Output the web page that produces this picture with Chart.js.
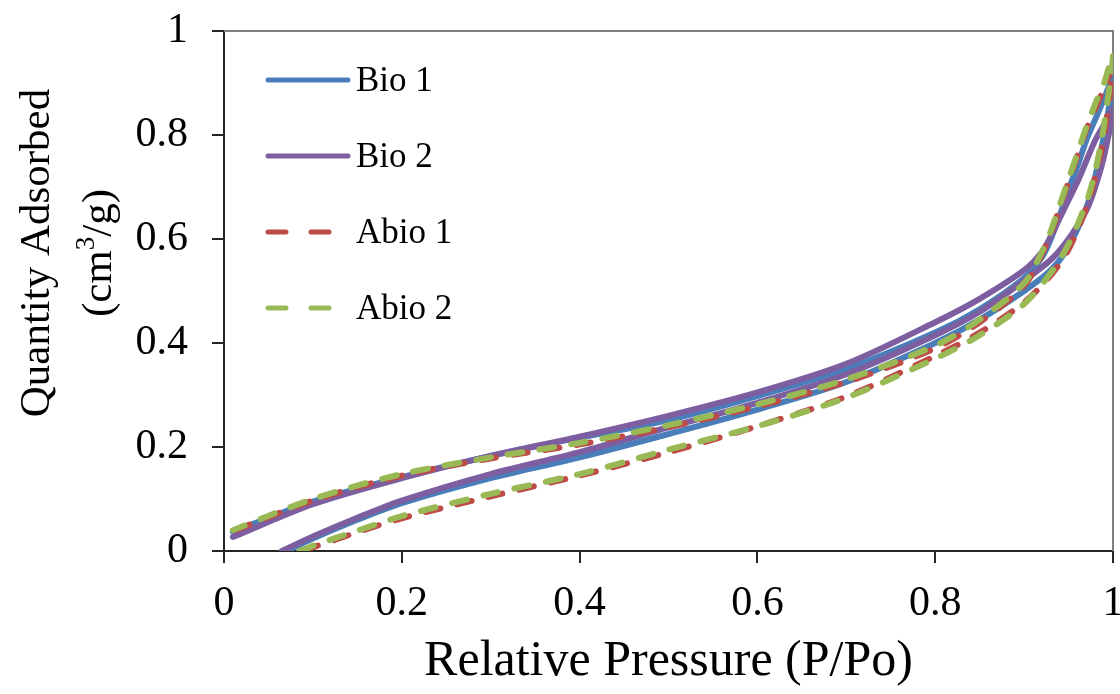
<!DOCTYPE html>
<html>
<head>
<meta charset="utf-8">
<script src="https://cdn.jsdelivr.net/npm/chart.js@4.4.1/dist/chart.umd.min.js"></script>
<style>
  html, body { margin: 0; padding: 0; background: #fff; }
  #wrap { width: 1120px; height: 694px; position: relative; }
</style>
</head>
<body>
<div id="wrap"><canvas id="chart"></canvas></div>
<script>
// isotherm loops: adsorption branch up to P/Po = 1, then desorption branch back down
const seriesNames = ['Bio 1', 'Bio 2', 'Abio 1', 'Abio 2']
const seriesColors = ['#4a7ebb', '#7d5fa1', '#be4b48', '#98b954']

const bio1Pressure = [0.07, 0.1, 0.15, 0.2, 0.3, 0.4, 0.5, 0.6, 0.7, 0.8, 0.85, 0.9, 0.93, 0.95, 0.97, 0.98, 0.99, 1.0,
  0.99, 0.98, 0.97, 0.96, 0.95, 0.94, 0.93, 0.92, 0.9, 0.85, 0.8, 0.7, 0.6, 0.5, 0.4, 0.3, 0.2, 0.1, 0.01]
const bio1Quantity = [0, 0.024, 0.06, 0.092, 0.14, 0.18, 0.225, 0.272, 0.325, 0.4, 0.445, 0.5, 0.54, 0.585, 0.66, 0.72, 0.8, 0.91,
  0.87, 0.83, 0.79, 0.74, 0.695, 0.645, 0.6, 0.565, 0.525, 0.465, 0.42, 0.35, 0.298, 0.252, 0.218, 0.183, 0.142, 0.095, 0.037]

const bio2Pressure = [0.065, 0.1, 0.15, 0.2, 0.3, 0.4, 0.5, 0.6, 0.7, 0.8, 0.85, 0.9, 0.93, 0.95, 0.97, 0.98, 0.99, 1.0,
  0.99, 0.98, 0.97, 0.96, 0.95, 0.94, 0.93, 0.92, 0.9, 0.85, 0.8, 0.7, 0.6, 0.5, 0.4, 0.3, 0.2, 0.1, 0.01]
const bio2Quantity = [0, 0.028, 0.064, 0.097, 0.148, 0.19, 0.238, 0.285, 0.34, 0.415, 0.46, 0.52, 0.56, 0.6, 0.655, 0.7, 0.76, 0.85,
  0.82, 0.79, 0.75, 0.71, 0.675, 0.64, 0.605, 0.575, 0.54, 0.485, 0.44, 0.36, 0.305, 0.26, 0.22, 0.183, 0.14, 0.09, 0.027]

const abio1Pressure = [0.09, 0.1, 0.15, 0.2, 0.3, 0.4, 0.5, 0.6, 0.7, 0.8, 0.85, 0.9, 0.93, 0.95, 0.97, 0.98, 0.99, 1.0,
  0.99, 0.98, 0.97, 0.96, 0.95, 0.94, 0.93, 0.92, 0.9, 0.85, 0.8, 0.7, 0.6, 0.5, 0.4, 0.3, 0.2, 0.1, 0.01]
const abio1Quantity = [0, 0.007, 0.036, 0.063, 0.105, 0.145, 0.19, 0.24, 0.297, 0.375, 0.42, 0.478, 0.53, 0.58, 0.66, 0.72, 0.8, 0.93,
  0.89, 0.85, 0.81, 0.76, 0.71, 0.66, 0.61, 0.57, 0.51, 0.44, 0.39, 0.325, 0.278, 0.238, 0.205, 0.178, 0.145, 0.097, 0.038]

const abio2Pressure = [0.085, 0.1, 0.15, 0.2, 0.3, 0.4, 0.5, 0.6, 0.7, 0.8, 0.85, 0.9, 0.93, 0.95, 0.97, 0.98, 0.99, 1.0,
  0.99, 0.98, 0.97, 0.96, 0.95, 0.94, 0.93, 0.92, 0.9, 0.85, 0.8, 0.7, 0.6, 0.5, 0.4, 0.3, 0.2, 0.1, 0.01]
const abio2Quantity = [0, 0.01, 0.039, 0.067, 0.11, 0.148, 0.195, 0.24, 0.295, 0.37, 0.415, 0.475, 0.535, 0.59, 0.67, 0.73, 0.82, 0.955,
  0.9, 0.86, 0.815, 0.765, 0.715, 0.665, 0.615, 0.575, 0.515, 0.445, 0.395, 0.33, 0.282, 0.242, 0.208, 0.18, 0.148, 0.1, 0.04]

const xTitle = 'Relative Pressure (P/Po)'
const yTitleLines = ['Quantity Adsorbed', '(cm', '3', '/g)']

const serif = "'Liberation Serif', 'Times New Roman', serif"
const axisColor = '#262626'

const toPoints = (xs, ys) => xs.map((x, i) => ({ x, y: ys[i] }))
const pressures = [bio1Pressure, bio2Pressure, abio1Pressure, abio2Pressure]
const quantities = [bio1Quantity, bio2Quantity, abio1Quantity, abio2Quantity]

const datasets = seriesNames.map((name, i) => ({
  label: name,
  data: toPoints(pressures[i], quantities[i]),
  showLine: true,
  borderColor: seriesColors[i],
  backgroundColor: seriesColors[i],
  borderWidth: 6,
  borderCapStyle: 'round',
  borderDash: i >= 2 ? [15, 17] : [],
  pointRadius: 0,
  tension: 0.3,
  order: 4 - i,
}))

const frame = {
  id: 'frame',
  beforeDatasetsDraw(chart) {
    const { ctx, chartArea: a } = chart
    ctx.save()
    ctx.strokeStyle = '#7f7f7f'
    ctx.lineWidth = 2
    ctx.beginPath()
    ctx.moveTo(a.left, a.top)
    ctx.lineTo(a.right, a.top)
    ctx.lineTo(a.right, a.bottom)
    ctx.stroke()
    ctx.restore()
  },
}

// legend sits inside the plot, top-left
const insideLegend = {
  id: 'insideLegend',
  afterDraw(chart) {
    const { ctx, chartArea: a } = chart
    ctx.save()
    chart.data.datasets.forEach((ds, i) => {
      const y = a.top + 49 + i * 76
      ctx.strokeStyle = ds.borderColor
      ctx.lineWidth = 5
      ctx.lineCap = 'round'
      ctx.setLineDash(ds.borderDash.length ? [18, 25] : [])
      ctx.beginPath()
      ctx.moveTo(a.left + 44, y)
      ctx.lineTo(a.left + 124, y)
      ctx.stroke()
      ctx.setLineDash([])
      ctx.fillStyle = '#000'
      ctx.font = `35px ${serif}`
      ctx.textBaseline = 'middle'
      ctx.textAlign = 'left'
      ctx.fillText(ds.label, a.left + 132, y + 2)
    })
    ctx.restore()
  },
}

// two-line rotated y title with a superscript
const yTitle = {
  id: 'yTitle',
  afterDraw(chart) {
    const { ctx } = chart
    const size = 43
    ctx.save()
    ctx.fillStyle = '#000'
    ctx.textBaseline = 'middle'
    ctx.translate(38, 253)
    ctx.rotate(-Math.PI / 2)
    ctx.font = `${size}px ${serif}`
    ctx.textAlign = 'center'
    ctx.fillText(yTitleLines[0], 0, 0)
    ctx.translate(0, 62)
    ctx.textAlign = 'left'
    const supFont = `${Math.round(size * 0.62)}px ${serif}`
    const w1 = ctx.measureText(yTitleLines[1]).width
    const w3 = ctx.measureText(yTitleLines[3]).width
    ctx.font = supFont
    const w2 = ctx.measureText(yTitleLines[2]).width
    let x = -(w1 + w2 + w3) / 2
    ctx.font = `${size}px ${serif}`
    ctx.fillText(yTitleLines[1], x, 0)
    x += w1
    ctx.font = supFont
    ctx.fillText(yTitleLines[2], x, -size * 0.3)
    x += w2
    ctx.font = `${size}px ${serif}`
    ctx.fillText(yTitleLines[3], x, 0)
    ctx.restore()
  },
}

const tickFormat = (v) => String(+v.toFixed(1))

new Chart(document.getElementById('chart'), {
  type: 'scatter',
  data: { datasets },
  options: {
    responsive: true,
    maintainAspectRatio: false,
    animation: false,
    layout: { padding: { top: 31, right: 0, bottom: 0, left: 0 } },
    plugins: {
      legend: { display: false },
      tooltip: { enabled: false },
    },
    scales: {
      x: {
        type: 'linear',
        min: 0,
        max: 1,
        ticks: {
          stepSize: 0.2,
          color: '#000',
          padding: 16,
          font: { family: serif, size: 42 },
          callback: tickFormat,
        },
        grid: { display: true, drawOnChartArea: false, drawTicks: true, tickLength: 12, color: axisColor, lineWidth: 2 },
        border: { display: true, color: axisColor, width: 2 },
        title: {
          display: true,
          text: xTitle,
          color: '#000',
          font: { family: serif, size: 50 },
          padding: { top: 0, bottom: 2 },
        },
        afterFit(scale) {
          scale.height = 143
          scale.paddingRight = 7
        },
      },
      y: {
        type: 'linear',
        min: 0,
        max: 1,
        ticks: {
          stepSize: 0.2,
          color: '#000',
          padding: 24,
          font: { family: serif, size: 42 },
          callback: tickFormat,
        },
        grid: { display: true, drawOnChartArea: false, drawTicks: true, tickLength: 12, color: axisColor, lineWidth: 2 },
        border: { display: true, color: axisColor, width: 2 },
        afterFit(scale) {
          scale.width = 224
          scale.paddingTop = 0
          scale.paddingBottom = 0
        },
      },
    },
  },
  plugins: [frame, insideLegend, yTitle],
})
</script>
</body>
</html>
